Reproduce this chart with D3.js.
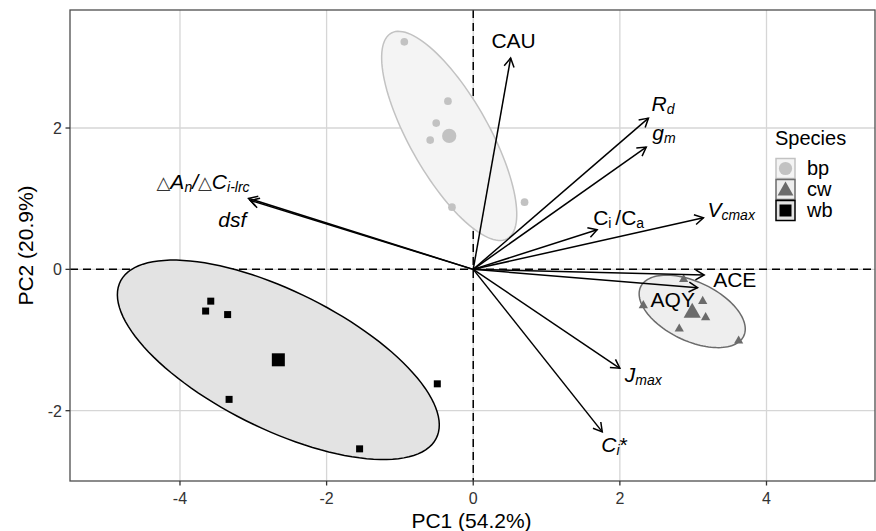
<!DOCTYPE html>
<html>
<head>
<meta charset="utf-8">
<script src="https://cdn.jsdelivr.net/npm/d3@7"></script>
<style>
  body { margin: 0; background: #fff; }
  text { font-family: "Liberation Sans", Arial, Helvetica, sans-serif; }
</style>
</head>
<body>
<div id="chart"></div>
<script>
// 个体得分 (PC1, PC2) 按树种分组
const species = ['bp', 'cw', 'wb']
const bp_pc1 = [-0.94, -0.345, -0.505, -0.587, -0.29, 0.70]
const bp_pc2 = [3.22, 2.38, 2.07, 1.83, 0.88, 0.95]
const cw_pc1 = [2.87, 2.32, 3.13, 3.17, 2.81, 3.62]
const cw_pc2 = [-0.13, -0.50, -0.44, -0.67, -0.83, -1.00]
const wb_pc1 = [-3.58, -3.65, -3.35, -3.33, -0.49, -1.55]
const wb_pc2 = [-0.45, -0.59, -0.64, -1.84, -1.62, -2.54]

// 变量载荷 (箭头终点)
const varNames = ['CAU', 'Rd', 'gm', 'CiCa', 'Vcmax', 'ACE', 'AQY', 'Jmax', 'Cistar', 'dAdC', 'dsf']
const var_pc1 = [0.51, 2.39, 2.36, 1.69, 3.14, 3.15, 3.06, 2.00, 1.76, -3.065, -3.04]
const var_pc2 = [2.99, 2.14, 1.73, 0.56, 0.73, -0.08, -0.26, -1.40, -2.30, 1.004, 0.975]

const xTicks = [-4, -2, 0, 2, 4]
const yTicks = [-2, 0, 2]
const xTitle = 'PC1 (54.2%)'
const yTitle = 'PC2 (20.9%)'
const legendTitle = 'Species'
const ellipseLevel = 0.75

// 样式
const width = 876
const height = 531
const panel = { left: 70, right: 875, top: 10, bottom: 481 }
const pointColor = { bp: '#c2c2c2', cw: '#6b6b6b', wb: '#000000' }
const ellipseFill = { bp: '#f4f4f4', cw: '#eeeeee', wb: '#e3e3e3' }
const ellipseStroke = { bp: '#c2c2c2', cw: '#6b6b6b', wb: '#000000' }

// 标签文本 (斜体 / 下标)
const labelParts = {
  CAU: [{ t: 'CAU' }],
  Rd: [{ t: 'R', i: 1 }, { t: 'd', i: 1, sub: 1 }],
  gm: [{ t: 'g', i: 1 }, { t: 'm', i: 1, sub: 1 }],
  CiCa: [{ t: 'C' }, { t: 'i ', sub: 1 }, { t: '/' }, { t: 'C' }, { t: 'a', sub: 1 }],
  Vcmax: [{ t: 'V', i: 1 }, { t: 'cmax', i: 1, sub: 1 }],
  ACE: [{ t: 'ACE' }],
  AQY: [{ t: 'AQY' }],
  Jmax: [{ t: 'J', i: 1 }, { t: 'max', i: 1, sub: 1 }],
  Cistar: [{ t: 'C', i: 1 }, { t: 'i', i: 1, sub: 1 }, { t: '*' }],
  dAdC: [{ t: '△', sym: 1 }, { t: 'A', i: 1 }, { t: 'n', i: 1, sub: 1 }, { t: '/', i: 1 }, { t: '△', sym: 1 }, { t: 'C', i: 1 }, { t: 'i-lrc', i: 1, sub: 1 }],
  dsf: [{ t: 'dsf', i: 1 }]
}
// 标签相对箭头终点的像素偏移
const labelNudge = {
  CAU: [3, -10, 'middle'], Rd: [3, -7, 'start'], gm: [6, -7, 'start'],
  CiCa: [-4, -5, 'start'], Vcmax: [4, -1, 'start'], ACE: [9, 12, 'start'],
  AQY: [-47, 19, 'start'], Jmax: [5, 14, 'start'], Cistar: [-1, 20, 'start'],
  dAdC: [-92, -9, 'start'], dsf: [-32, 27, 'start']
}

const svg = d3.select('#chart').append('svg').attr('width', width).attr('height', height)

const x = d3.scaleLinear().domain([-5.5, 5.48]).range([panel.left, panel.right])
const y = d3.scaleLinear().domain([-2.995, 3.67]).range([panel.bottom, panel.top])

// 网格线
const grid = svg.append('g')
xTicks.forEach(v => {
  grid.append('line').attr('x1', x(v)).attr('x2', x(v)).attr('y1', panel.top).attr('y2', panel.bottom)
    .attr('stroke', '#d6d6d6').attr('stroke-width', 1.3)
})
yTicks.forEach(v => {
  grid.append('line').attr('y1', y(v)).attr('y2', y(v)).attr('x1', panel.left).attr('x2', panel.right)
    .attr('stroke', '#d6d6d6').attr('stroke-width', 1.3)
})

// 零线 (虚线)
svg.append('line').attr('x1', x(0)).attr('x2', x(0)).attr('y1', panel.top).attr('y2', panel.bottom)
  .attr('stroke', '#000').attr('stroke-width', 1.5).attr('stroke-dasharray', '8,5')
svg.append('line').attr('y1', y(0)).attr('y2', y(0)).attr('x1', panel.left).attr('x2', panel.right)
  .attr('stroke', '#000').attr('stroke-width', 1.5).attr('stroke-dasharray', '8,5')

const groupData = {
  bp: bp_pc1.map((d, i) => ({ x: d, y: bp_pc2[i] })),
  cw: cw_pc1.map((d, i) => ({ x: d, y: cw_pc2[i] })),
  wb: wb_pc1.map((d, i) => ({ x: d, y: wb_pc2[i] }))
}

// 正态置信椭圆
function ellipsePoints (pts, level) {
  const n = pts.length
  const mx = d3.mean(pts, d => d.x)
  const my = d3.mean(pts, d => d.y)
  let a = 0, b = 0, c = 0
  pts.forEach(p => {
    a += (p.x - mx) * (p.x - mx)
    b += (p.x - mx) * (p.y - my)
    c += (p.y - my) * (p.y - my)
  })
  a /= (n - 1); b /= (n - 1); c /= (n - 1)
  const r = Math.sqrt(-2 * Math.log(1 - level))
  const m = (a + c) / 2
  const dlt = Math.sqrt(((a - c) / 2) * ((a - c) / 2) + b * b)
  const l1 = m + dlt, l2 = m - dlt
  const th = 0.5 * Math.atan2(2 * b, a - c)
  const out = []
  for (let k = 0; k <= 120; k++) {
    const t = k / 120 * 2 * Math.PI
    const u = r * Math.sqrt(l1) * Math.cos(t)
    const v = r * Math.sqrt(l2) * Math.sin(t)
    out.push([mx + u * Math.cos(th) - v * Math.sin(th), my + u * Math.sin(th) + v * Math.cos(th)])
  }
  return { pts: out, mx: mx, my: my }
}

const line = d3.line().x(d => x(d[0])).y(d => y(d[1]))
const ellipseG = svg.append('g')
const centers = {}
species.forEach(s => {
  const e = ellipsePoints(groupData[s], ellipseLevel)
  centers[s] = { x: e.mx, y: e.my }
  ellipseG.append('path').attr('d', line(e.pts) + 'Z')
    .attr('fill', ellipseFill[s]).attr('stroke', ellipseStroke[s]).attr('stroke-width', 1.5)
})

// 点形状
function drawShape (g, s, cx, cy, size) {
  if (s === 'bp') {
    g.append('circle').attr('cx', cx).attr('cy', cy).attr('r', size * 0.55).attr('fill', pointColor[s])
  } else if (s === 'cw') {
    const h = size * 1.1
    g.append('path').attr('d', `M${cx},${cy - h * 0.6}L${cx + h * 0.6},${cy + h * 0.45}L${cx - h * 0.6},${cy + h * 0.45}Z`)
      .attr('fill', pointColor[s])
  } else {
    g.append('rect').attr('x', cx - size / 2).attr('y', cy - size / 2).attr('width', size).attr('height', size)
      .attr('fill', pointColor[s])
  }
}

const pointG = svg.append('g')
species.forEach(s => {
  groupData[s].forEach(p => drawShape(pointG, s, x(p.x), y(p.y), 7))
  drawShape(pointG, s, x(centers[s].x), y(centers[s].y), 13)
})

// 变量箭头
const arrowG = svg.append('g')
varNames.forEach((name, i) => {
  const x0 = x(0), y0 = y(0)
  const x1 = x(var_pc1[i]), y1 = y(var_pc2[i])
  arrowG.append('line').attr('x1', x0).attr('y1', y0).attr('x2', x1).attr('y2', y1)
    .attr('stroke', '#000').attr('stroke-width', 1.5)
  const ang = Math.atan2(y1 - y0, x1 - x0)
  const len = 10
  const p1 = [x1 - len * Math.cos(ang - Math.PI / 6), y1 - len * Math.sin(ang - Math.PI / 6)]
  const p2 = [x1 - len * Math.cos(ang + Math.PI / 6), y1 - len * Math.sin(ang + Math.PI / 6)]
  arrowG.append('path').attr('d', `M${p1[0]},${p1[1]}L${x1},${y1}L${p2[0]},${p2[1]}`)
    .attr('fill', 'none').attr('stroke', '#000').attr('stroke-width', 1.5)
})

// 变量标签
const labelG = svg.append('g')
varNames.forEach((name, i) => {
  const nd = labelNudge[name]
  const txt = labelG.append('text')
    .attr('x', x(var_pc1[i]) + nd[0]).attr('y', y(var_pc2[i]) + nd[1])
    .attr('text-anchor', nd[2]).attr('font-size', 21).attr('fill', '#000')
  let off = 0
  labelParts[name].forEach(p => {
    const want = p.sub ? 3 : 0
    const ts = txt.append('tspan').text(p.t).attr('dy', want - off)
    off = want
    if (p.i) ts.attr('font-style', 'italic')
    if (p.sub) ts.attr('font-size', 14)
    if (p.sym) ts.attr('font-size', 18).attr('font-family', 'DejaVu Sans').attr('fill', '#333')
  })
})

// 边框
svg.append('rect').attr('x', panel.left).attr('y', panel.top)
  .attr('width', panel.right - panel.left).attr('height', panel.bottom - panel.top)
  .attr('fill', 'none').attr('stroke', '#4d4d4d').attr('stroke-width', 1.3)

// 坐标轴刻度
xTicks.forEach(v => {
  svg.append('line').attr('x1', x(v)).attr('x2', x(v)).attr('y1', panel.bottom).attr('y2', panel.bottom + 4.5)
    .attr('stroke', '#333').attr('stroke-width', 1.3)
  svg.append('text').attr('x', x(v)).attr('y', panel.bottom + 23).attr('text-anchor', 'middle')
    .attr('font-size', 16).attr('fill', '#333').text(v < 0 ? '-' + Math.abs(v) : v)
})
yTicks.forEach(v => {
  svg.append('line').attr('x1', panel.left - 4.5).attr('x2', panel.left).attr('y1', y(v)).attr('y2', y(v))
    .attr('stroke', '#333').attr('stroke-width', 1.3)
  svg.append('text').attr('x', panel.left - 8).attr('y', y(v) + 6).attr('text-anchor', 'end')
    .attr('font-size', 16).attr('fill', '#333').text(v < 0 ? '-' + Math.abs(v) : v)
})

// 坐标轴标题
svg.append('text').attr('x', (panel.left + panel.right) / 2 - 1).attr('y', 528).attr('text-anchor', 'middle')
  .attr('font-size', 21).attr('fill', '#000').text(xTitle)
svg.append('text').attr('transform', `translate(33,${(panel.top + panel.bottom) / 2}) rotate(-90)`)
  .attr('text-anchor', 'middle').attr('font-size', 21).attr('fill', '#000').text(yTitle)

// 图例
const legend = svg.append('g')
legend.append('text').attr('x', 775).attr('y', 145).attr('font-size', 20).attr('fill', '#000').text(legendTitle)
species.forEach((s, i) => {
  const ky = 158 + i * 21
  legend.append('rect').attr('x', 776).attr('y', ky + 0.5).attr('width', 19).attr('height', 20)
    .attr('fill', ellipseFill[s]).attr('stroke', ellipseStroke[s]).attr('stroke-width', 1.5)
  drawShape(legend, s, 785.5, ky + 10.5, 12)
  legend.append('text').attr('x', 807).attr('y', ky + 16.5).attr('font-size', 20).attr('fill', '#000').text(s)
})
</script>
</body>
</html>
